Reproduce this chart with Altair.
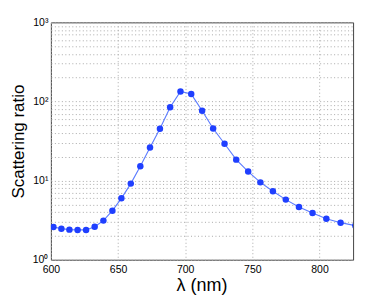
import altair as alt
import pandas as pd

wavelength_nm = [601.9, 607.8, 613.8, 619.9, 626.2, 632.6, 639.1, 645.8, 652.5, 659.5,
                 666.6, 673.8, 681.2, 688.8, 696.5, 704.5, 712.6, 720.8, 729.3, 738.0,
                 746.9, 756.0, 765.3, 774.9, 784.7, 794.8, 805.1, 815.7, 826.6]
scattering_ratio = [2.59, 2.47, 2.40, 2.38, 2.38, 2.61, 3.12, 4.17, 5.97, 9.16,
                    15.2, 26.2, 45.1, 84.7, 134, 124, 76.3, 45.5, 29.2, 18.4,
                    13.0, 9.5, 7.32, 5.75, 4.65, 3.90, 3.30, 2.94, 2.70]

x_ticks = [600, 650, 700, 750, 800]
y_ticks = [1, 2, 3, 4, 5, 6, 7, 8, 9, 10, 20, 30, 40, 50, 60, 70, 80, 90,
           100, 200, 300, 400, 500, 600, 700, 800, 900, 1000]

df = pd.DataFrame({"wl": wavelength_nm, "ratio": scattering_ratio})

font = "Liberation Sans"

x_enc = alt.X("wl:Q",
              scale=alt.Scale(domain=[600, 825], nice=False, zero=False),
              axis=alt.Axis(values=x_ticks, title="λ (nm)", grid=True,
                            gridDash=[1, 2.5], gridColor="#aaaaaa", gridWidth=1,
                            ticks=False, domain=False, labelFlush=False,
                            labelFont=font, labelFontSize=10.5,
                            labelColor="#000000", labelPadding=5,
                            titleFont=font, titleFontSize=18, titleFontWeight="normal",
                            titleColor="#000000", titleBaseline="alphabetic",
                            titleY=31, titleX=151))
y_enc = alt.Y("ratio:Q",
              scale=alt.Scale(type="log", domain=[1, 1000], nice=False),
              axis=alt.Axis(values=y_ticks, title="Scattering ratio", grid=True,
                            gridDash=[1, 2.5], gridColor="#aaaaaa", gridWidth=1,
                            ticks=False, domain=False, labelOverlap=False, labelFlush=False,
                            labelExpr="datum.value == 1 ? '10⁰' : datum.value == 10 ? '10¹' : datum.value == 100 ? '10²' : datum.value == 1000 ? '10³' : ''",
                            labelFont=font, labelFontSize=10.5, labelColor="#000000",
                            labelPadding=3,
                            titleFont=font, titleFontSize=17, titleFontWeight="normal",
                            titleColor="#000000", titleBaseline="alphabetic",
                            titleX=-27, titleY=119, titleAngle=270))

base = alt.Chart(df)
line = base.mark_line(color="#5b7bff", strokeWidth=1.1, clip=True).encode(x=x_enc, y=y_enc)
pts = base.mark_circle(color="#1f3fff", size=42, opacity=1, clip=True).encode(x=x_enc, y=y_enc)

chart = alt.layer(line, pts).properties(
    width=303, height=238,
    autosize=alt.AutoSizeParams(type="none"),
    padding={"left": 43, "top": 14, "right": 30, "bottom": 40},
).configure_view(stroke="#444444", strokeWidth=1)

chart.save("out.html", embed_options={"renderer": "svg", "actions": False})
